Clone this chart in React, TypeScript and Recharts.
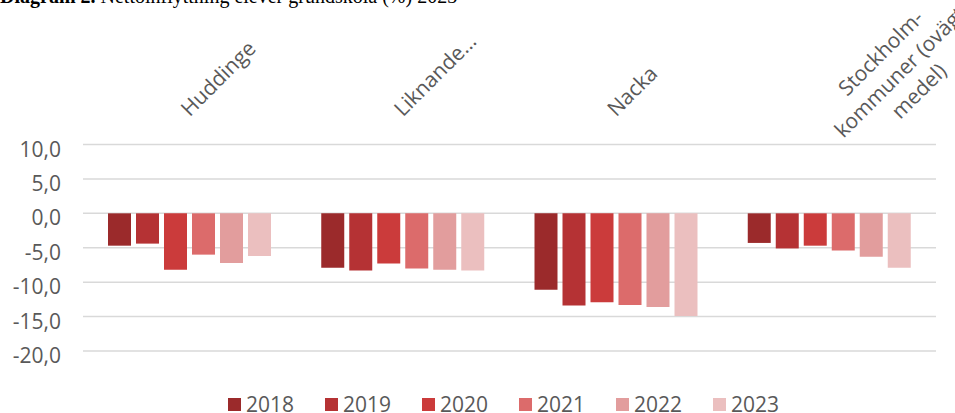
import React from "react";
import { BarChart, Bar, XAxis, YAxis, CartesianGrid, Legend } from "recharts";

// categories (newline = manual line break in the rotated label)
const categories = ["Huddinge", "Liknande...", "Nacka", "Stockholm-\nkommuner (ovägt\nmedel)"];
const years = ["2018", "2019", "2020", "2021", "2022", "2023"];

// values per year, same order as categories
const v2018 = [-4.7, -7.9, -11.1, -4.3];
const v2019 = [-4.4, -8.3, -13.4, -5.1];
const v2020 = [-8.2, -7.3, -12.9, -4.7];
const v2021 = [-6.0, -8.0, -13.3, -5.4];
const v2022 = [-7.2, -8.2, -13.6, -6.3];
const v2023 = [-6.2, -8.3, -14.9, -7.9];

const yTicks = [-20, -15, -10, -5, 0, 5, 10];

const colors = ["#9B2A2B", "#B53234", "#CB3B3B", "#DC6B6B", "#E29D9D", "#EBBFBF"];
const font = "'Open Sans', sans-serif";
const textColor = "#595959";

const series = [v2018, v2019, v2020, v2021, v2022, v2023];
const data = categories.map((name, i) => {
  const row: Record<string, string | number> = { name };
  years.forEach((y, j) => {
    row[y] = series[j][i];
  });
  return row;
});

const fmt = (v: number) => v.toFixed(1).replace(".", ",");

const CategoryTick = (props: any) => {
  const { x, y, payload } = props;
  const lines = String(payload.value).split("\n");
  const multi = lines.length > 1;
  return (
    <g transform={`translate(${x},${y}) rotate(-45)`}>
      <text textAnchor={multi ? "middle" : "start"} fontFamily={font} fontSize={21} fill={textColor}>
        {lines.map((line, i) => (
          <tspan key={i} x={multi ? 82 : 0} y={multi ? -2 + i * 27 : 0}>
            {line}
          </tspan>
        ))}
      </text>
    </g>
  );
};

const ValueTick = (props: any) => {
  const { x, y, payload } = props;
  return (
    <text x={x} y={y + 12} textAnchor="end" fontFamily={font} fontSize={21} fill={textColor}>
      {fmt(payload.value)}
    </text>
  );
};

const LegendContent = () => (
  <div
    style={{
      display: "flex",
      justifyContent: "center",
      alignItems: "flex-start",
      height: 62,
      paddingTop: 44,
      paddingLeft: 71,
      boxSizing: "border-box",
      fontFamily: font,
      fontSize: 21,
      lineHeight: "18px",
      color: textColor,
    }}
  >
    {years.map((y, i) => (
      <div key={y} style={{ display: "flex", alignItems: "center", marginRight: i < years.length - 1 ? 31 : 0 }}>
        <span style={{ display: "inline-block", width: 13, height: 13, background: colors[i], marginRight: 5 }} />
        <span>{y}</span>
      </div>
    ))}
  </div>
);

export default function App() {
  return (
    <div style={{ position: "relative", width: 955, height: 413, overflow: "hidden", background: "#fff" }}>
      <style>{"body{margin:0}"}</style>
      <div
        style={{
          position: "absolute",
          top: -14,
          left: 0,
          whiteSpace: "nowrap",
          fontFamily: "'Liberation Serif', 'Times New Roman', serif",
          fontSize: 20,
          lineHeight: "20px",
          color: "#000",
        }}
      >
        <b>Diagram 2.</b> Nettoinflyttning elever grundskola (%) 2023
      </div>
      <div style={{ position: "absolute", top: 0, left: 0 }}>
        <BarChart
          width={955}
          height={413}
          data={data}
          margin={{ top: 0, right: 19, bottom: 0, left: 0 }}
          barSize={23}
          barGap={5}
        >
          <CartesianGrid vertical={false} stroke="#D9D9D9" strokeWidth={1.5} />
          <XAxis
            dataKey="name"
            orientation="top"
            height={144.5}
            axisLine={false}
            tickLine={false}
            tickSize={0}
            tickMargin={27}
            interval={0}
            tick={<CategoryTick />}
          />
          <YAxis
            domain={[-20, 10]}
            ticks={yTicks}
            width={83}
            axisLine={false}
            tickLine={false}
            tickSize={0}
            tickMargin={22}
            tick={<ValueTick />}
          />
          <Legend verticalAlign="bottom" content={<LegendContent />} />
          {years.map((y, i) => (
            <Bar key={y} dataKey={y} fill={colors[i]} isAnimationActive={false} />
          ))}
        </BarChart>
      </div>
    </div>
  );
}
